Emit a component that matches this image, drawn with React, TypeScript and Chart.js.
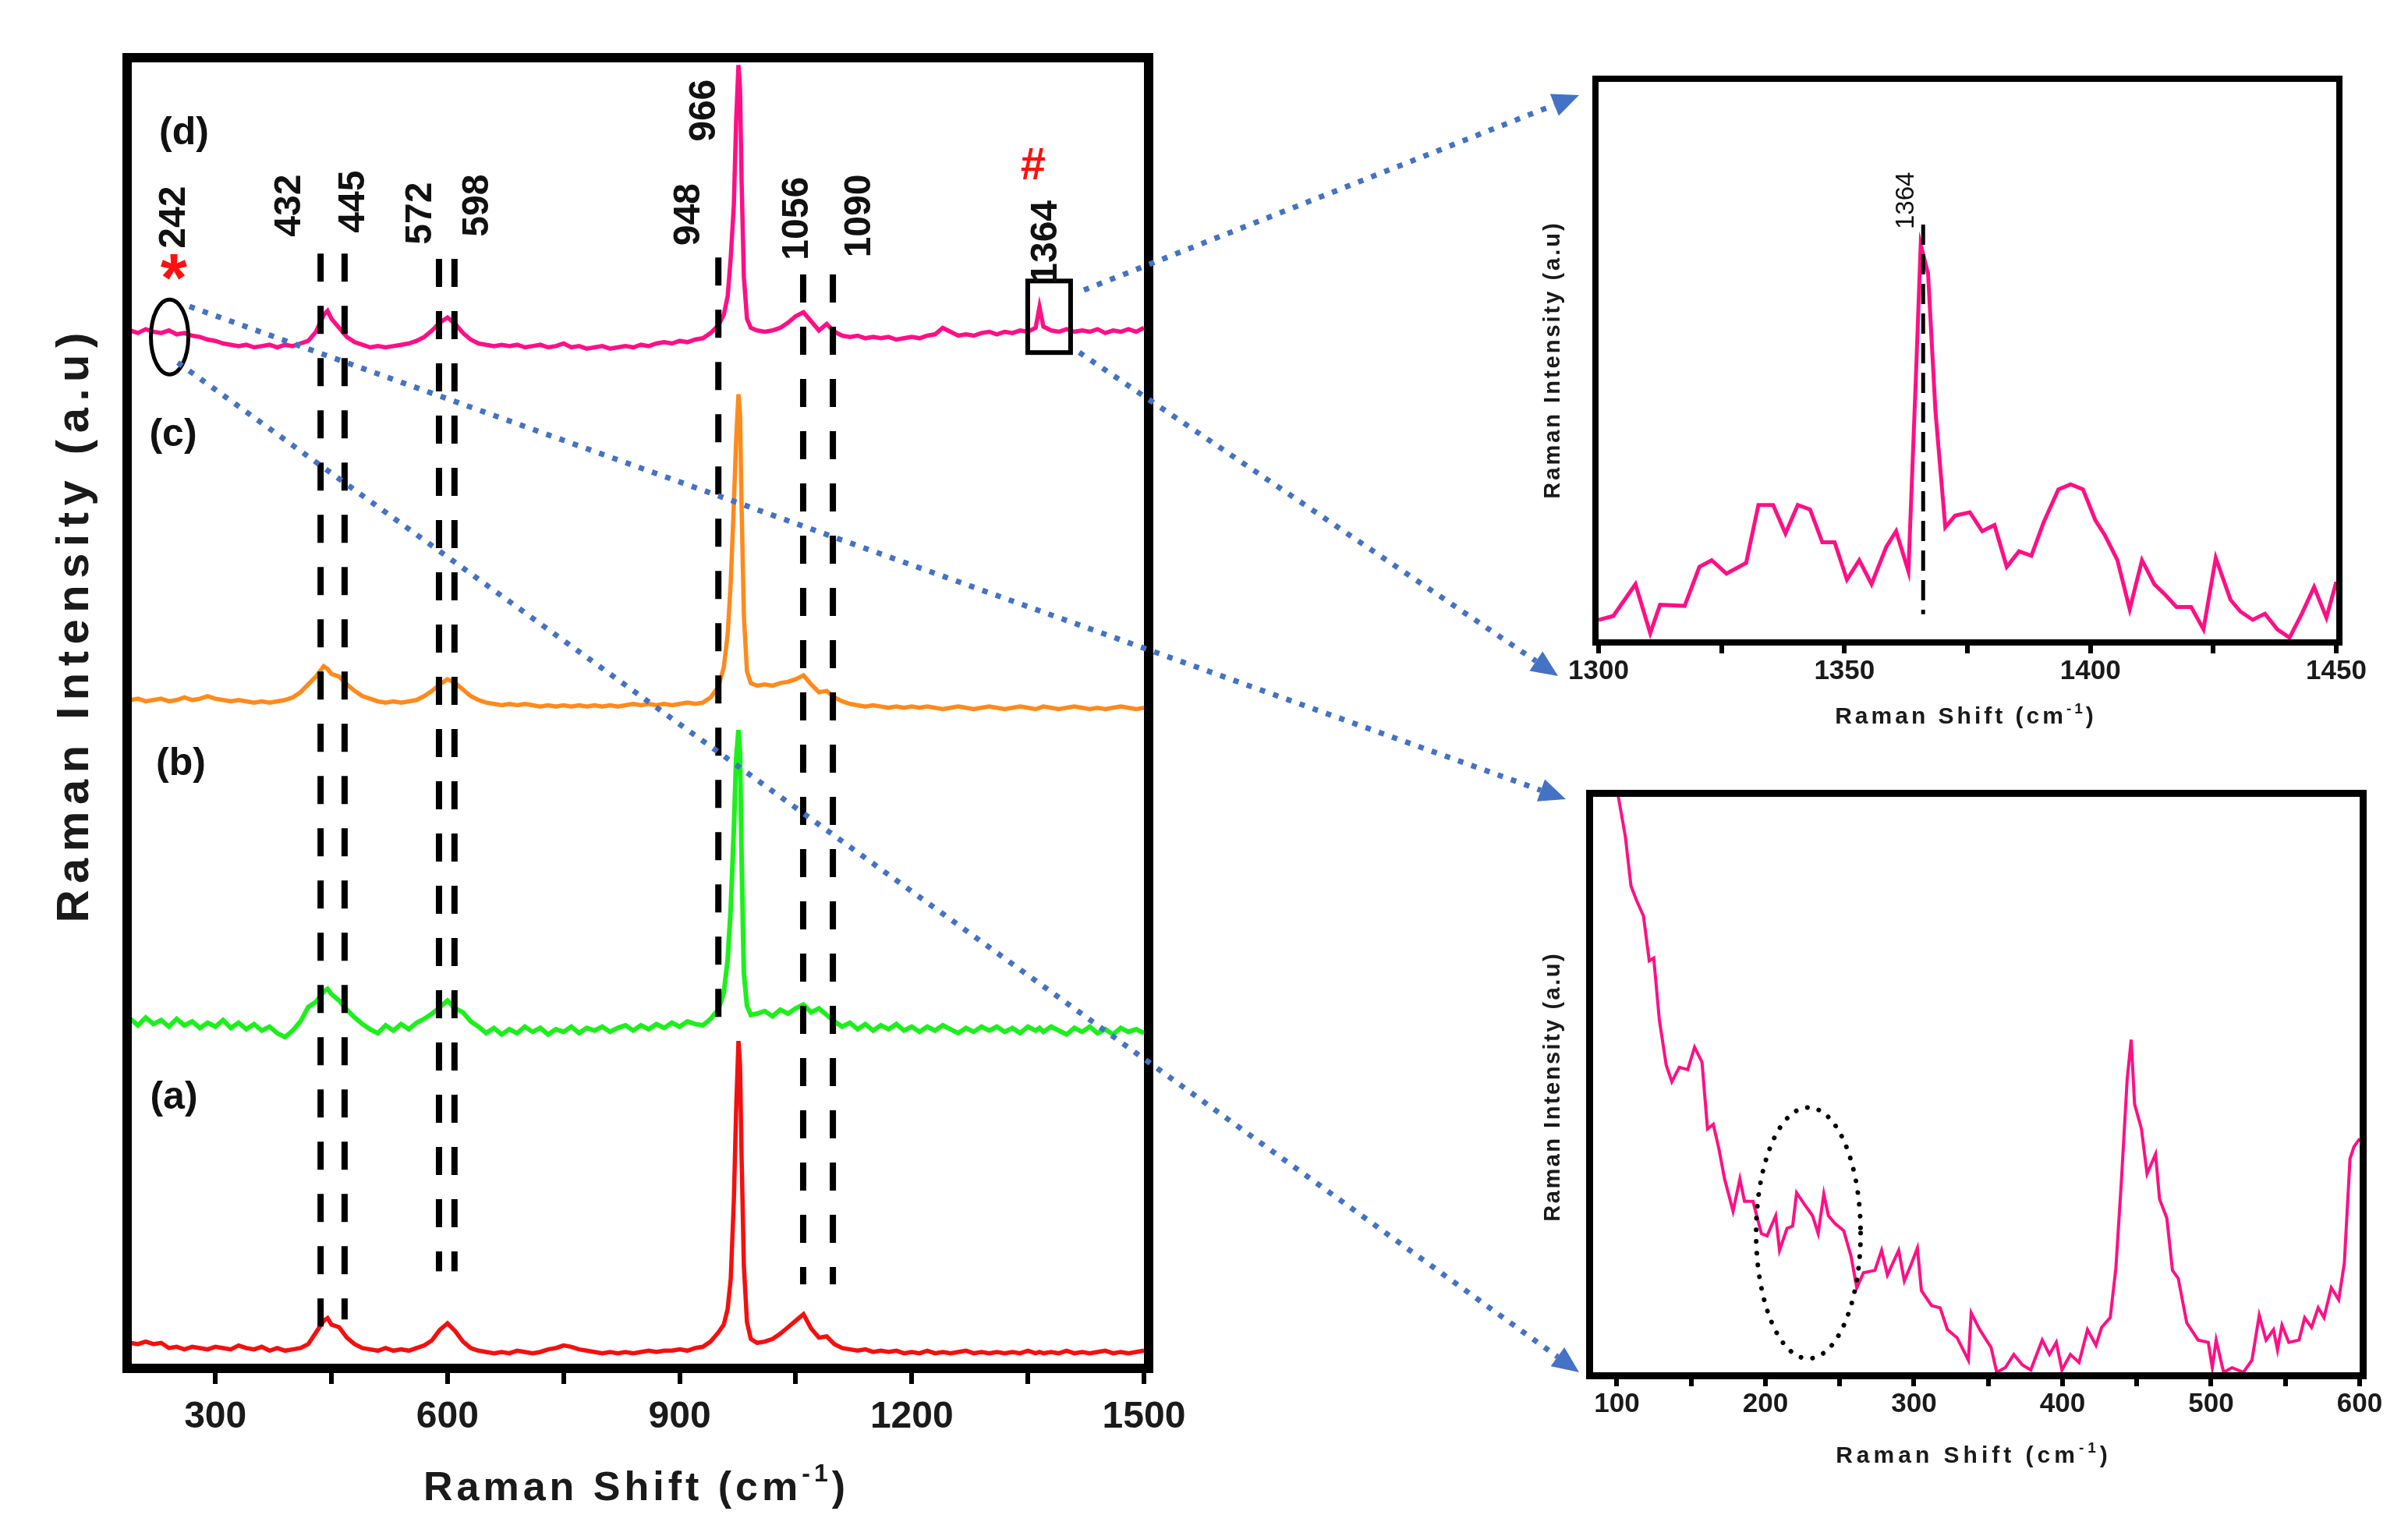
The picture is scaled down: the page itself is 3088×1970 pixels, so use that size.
import React, { useEffect, useRef } from 'react';
import { Chart, registerables } from 'chart.js';
Chart.register(...registerables);

const FAMILY = '"Liberation Sans", Arial, Helvetica, sans-serif';
const RED = '#f50f0f';
const GREEN = '#1cf01c';
const ORANGE = '#ff8a1c';
const PINK = '#ff0f86';
const BLUE = '#4472c4';
const INK = '#1a1a1a';

// ---------------- main panel data ----------------
const mainX = [
  190, 200, 210, 220, 230, 240, 250, 260, 270, 280, 290, 300, 310, 320, 330, 340, 350, 360, 370, 380, 390, 400, 410, 420, 430, 440,
  445,
  450, 460, 470, 480, 490, 500, 510, 520, 530, 540, 550, 560, 570, 580, 590, 600, 610, 620, 630, 640, 650, 660, 670, 680, 690, 700,
  710, 720, 730, 740, 750, 760, 770, 780, 790, 800, 810, 820, 830, 840, 850, 860, 870, 880, 890, 900, 910, 920, 930, 940, 950,
  957, 962, 966, 970, 973, 976, 978, 980, 983, 987, 992,
  1000, 1010, 1020, 1030, 1040, 1050, 1060, 1070, 1080, 1090, 1100, 1110, 1120, 1130, 1140, 1150, 1160, 1170, 1180, 1190,
  1200, 1210, 1220, 1230, 1240, 1250, 1260, 1270, 1280, 1290, 1300, 1310, 1320, 1330, 1340, 1350, 1360,
  1365,
  1370, 1380, 1390, 1400, 1410, 1420, 1430, 1440, 1450, 1460, 1470, 1480, 1490, 1500,
];

const seriesA = [
  1.6, 1.5, 1.7, 1.5, 1.6, 1.2, 1.3, 1.1, 1.3, 1.2, 1.1, 1.3, 1.2, 1.1, 1.4, 1.2, 1.1, 1.3, 1.0, 1.2, 1.0, 1.1, 1.2, 1.5, 2.4, 3.3,
  3.5,
  3.0, 2.8, 2.0, 1.5, 1.2, 1.1, 1.0, 1.2, 1.0, 1.1, 1.0, 1.2, 1.4, 1.8, 2.6, 3.1, 2.5, 1.7, 1.2, 1.0, 0.9, 0.8, 0.9, 0.8, 1.0, 0.9,
  0.8, 0.9, 1.1, 1.2, 1.4, 1.3, 1.1, 1.0, 0.9, 0.8, 0.9, 0.8, 0.9, 0.8, 0.9, 1.0, 0.9, 1.0, 1.0, 1.1, 1.0, 1.2, 1.3, 1.7, 2.4,
  3.0, 4.2, 6.5, 12.5, 19.5, 24.8, 23.0, 16.0, 7.5, 3.2, 1.9,
  1.6, 1.7, 1.9, 2.3, 2.8, 3.3, 3.8, 2.7, 2.0, 2.1, 1.5, 1.2, 1.1, 1.0, 1.1, 0.9, 1.0, 0.9, 1.0, 0.8,
  0.9, 0.8, 1.0, 0.8, 0.9, 0.8, 0.9, 1.0, 0.8, 0.9, 0.8, 0.9, 0.8, 0.9, 0.8, 1.0, 0.8,
  0.9,
  0.8, 0.9, 0.8, 1.0, 0.8, 0.9, 0.8, 0.9, 1.0, 0.8, 0.9, 0.8, 0.9, 1.0,
];

const seriesB = [
  26.5, 26.0, 26.6, 26.1, 26.4, 25.9, 26.5, 26.0, 26.3, 25.8, 26.2, 25.9, 26.4, 25.8, 26.2, 25.7, 26.1, 25.6, 25.9, 25.4, 25.1, 25.6, 26.3, 27.4, 27.8, 28.6,
  28.8,
  28.4, 27.9, 27.2, 26.6, 26.1, 25.7, 25.4, 26.0, 25.6, 26.1, 25.7, 26.2, 26.5, 26.9, 27.4, 27.9, 27.3, 27.0, 26.3, 25.9, 25.4, 25.8, 25.3, 25.7, 25.4, 25.9,
  25.5, 25.8, 25.3, 25.7, 25.5, 25.9, 25.4, 25.8, 25.6, 25.9, 25.5, 25.8, 26.0, 25.6, 26.0, 25.7, 26.1, 25.8, 26.2, 25.9, 26.3, 26.1, 26.0, 26.5, 27.2,
  28.5, 31.0, 35.0, 41.0, 46.5, 48.7, 47.0, 39.0, 30.0, 27.5, 26.8,
  26.9, 27.1, 26.7, 27.2, 26.9, 27.3, 27.6, 27.0, 27.3, 26.8, 26.3, 25.9, 26.2, 25.7, 26.1, 25.6, 26.0, 25.7, 26.1, 25.6,
  25.9, 25.5, 25.9, 25.6, 26.0, 25.7, 25.4, 25.8, 25.5, 25.9, 25.6, 25.9, 25.5, 25.8, 25.4, 25.9, 25.6,
  25.8,
  25.5, 25.9, 25.6, 25.3, 25.8, 25.5, 25.9, 25.4, 25.7, 25.3, 25.8, 25.5, 25.7, 25.4,
];

const seriesC = [
  51.0, 51.1, 50.9, 51.0, 51.1, 50.9, 51.0, 51.2, 51.0, 51.1, 51.3, 51.1, 51.0, 50.9, 51.0, 50.9, 50.8, 50.9, 50.8, 50.9, 51.0, 51.2, 51.6, 52.2, 52.8, 53.6,
  53.4,
  53.0, 52.8, 52.2, 51.7, 51.3, 51.1, 50.9, 50.8, 50.9, 50.8, 50.9, 51.0, 51.3, 51.7, 52.2, 52.6, 52.3, 51.8, 51.3, 51.0, 50.8, 50.7, 50.6, 50.7, 50.6, 50.7,
  50.6, 50.5, 50.6, 50.5, 50.6, 50.5, 50.6, 50.5, 50.6, 50.5, 50.6, 50.5, 50.6, 50.7, 50.6, 50.7, 50.6, 50.7, 50.6, 50.7, 50.8, 50.7, 50.8, 51.2, 52.0,
  53.5, 56.0, 60.0, 66.0, 71.0, 74.5, 73.0, 66.0, 57.5, 53.2, 52.3,
  52.1, 52.2, 52.1, 52.3, 52.4, 52.6, 52.9, 52.2, 51.6, 51.7, 51.2, 50.9, 50.7, 50.6, 50.5, 50.6, 50.5, 50.4, 50.5, 50.4,
  50.5, 50.4, 50.5, 50.4, 50.3, 50.4, 50.5, 50.4, 50.3, 50.4, 50.5, 50.4, 50.3, 50.4, 50.5, 50.4, 50.3,
  50.4,
  50.5, 50.4, 50.3, 50.4, 50.5, 50.4, 50.3, 50.4, 50.3, 50.4, 50.5, 50.4, 50.3, 50.4,
];

const seriesD = [
  79.4, 79.2, 79.5, 79.3, 79.2, 79.4, 79.1, 79.2, 79.0, 78.9, 78.7, 78.6, 78.4, 78.3, 78.2, 78.3, 78.1, 78.2, 78.3, 78.1, 78.3, 78.2, 78.4, 78.6, 79.3, 80.6,
  80.9,
  80.3, 79.6, 78.9, 78.5, 78.3, 78.1, 78.2, 78.1, 78.2, 78.3, 78.4, 78.6, 78.9, 79.4, 80.0, 80.4, 79.9, 79.2, 78.7, 78.4, 78.3, 78.2, 78.3, 78.2, 78.3, 78.1,
  78.2, 78.3, 78.1, 78.2, 78.4, 78.1, 78.2, 78.0, 78.1, 78.2, 78.0, 78.1, 78.2, 78.1, 78.3, 78.2, 78.4, 78.5, 78.4, 78.6, 78.5, 78.7, 78.8, 79.2, 79.8,
  80.6, 82.0, 85.0, 89.0, 95.5, 99.8, 98.0, 91.0, 83.5, 80.3, 79.6,
  79.4, 79.3, 79.4, 79.6, 80.0, 80.5, 80.8, 80.1, 79.4, 79.9, 79.3, 79.0, 78.9, 79.0, 78.8, 78.9, 78.8, 78.9, 78.7, 78.8,
  78.9, 78.8, 79.0, 79.1, 79.6, 79.3, 79.0, 79.1, 79.0, 79.2, 79.3, 79.1, 79.3, 79.2, 79.4, 79.3, 79.6,
  81.2,
  79.7, 79.4, 79.3, 79.5, 79.3, 79.4, 79.3, 79.5, 79.2, 79.4, 79.3, 79.5, 79.3, 79.6,
];

const mainTicks = [300, 450, 600, 750, 900, 1050, 1200, 1350, 1500];
const mainLabelledTicks = [300, 600, 900, 1200, 1500];

// peak annotations (text, label position, dashed marker position)
const peakTexts = ['242', '432', '445', '572', '598', '948', '966', '1056', '1090', '1364'];
const peakTextX = [243.4, 392.5, 475.2, 561.8, 635.4, 908.4, 928.6, 1048.5, 1129.1, 1370];
const peakTextY = [88.1, 89.0, 89.3, 88.4, 89.0, 88.3, 96.3, 88.0, 88.2, 86.2];
const dashX = [436, 467, 589, 609, 950, 1059.6, 1098];
const dashTop = [85.3, 85.3, 84.9, 84.9, 85.0, 83.7, 83.7];
const dashBottom = [2.5, 3.4, 7.1, 7.1, 25.9, 6.1, 6.1];
const traceNames = ['(d)', '(c)', '(b)', '(a)'];
const traceNameX = [259.5, 245.4, 255.5, 246.4];
const traceNameY = [94.5, 71.3, 46.0, 20.4];

// ---------------- inset (1300-1450) ----------------
const hiX = [1300, 1303, 1307.5, 1310.5, 1312.5, 1317.5, 1320.5, 1323, 1326, 1330, 1332.5, 1335.5, 1338, 1340.5, 1343, 1345.5, 1348, 1350.5, 1353, 1355.5,
  1358.5, 1360.5, 1363, 1364.5, 1365.5, 1367, 1368.5, 1370.5, 1372.5, 1375.5, 1378, 1380.5, 1383, 1385.5, 1388, 1390.5, 1393.5, 1396, 1398.5, 1401,
  1403, 1405.5, 1408, 1410.5, 1413, 1415, 1417.5, 1420.5, 1423, 1425.5, 1428.5, 1430.5, 1433, 1435.5, 1438, 1440.5, 1443, 1445.5, 1448, 1450];
const hiY = [3.5, 4.2, 9.9, 1.1, 6.2, 6.0, 13, 14.2, 11.8, 13.7, 24.1, 24.1, 19, 24.1, 23.3, 17.4, 17.4, 10.7, 14.2, 9.9,
  16.6, 19.4, 12.2, 46.5, 70.8, 65.6, 40.9, 20.1, 22.2, 22.8, 19.4, 20.5, 13, 15.8, 15, 21, 26.9, 27.8, 26.9, 21.4,
  18.6, 14.2, 5.4, 14.2, 9.9, 8.2, 5.8, 5.8, 1.8, 14.6, 7.1, 5, 3.5, 4.6, 1.8, 0.3, 4.6, 9.4, 3.9, 10.3];
const hiTicks = [1300, 1325, 1350, 1375, 1400, 1425, 1450];
const hiLabelledTicks = [1300, 1350, 1400, 1450];

// ---------------- inset (100-600) ----------------
const loX = [101, 105.7, 109.5, 113.4, 117.9, 121.8, 124.8, 128.6, 133.2, 137, 142, 147.7, 152.3, 157.3, 161, 164.9, 168.7, 172.5, 178.2, 182.8,
  185.9, 191.6, 197.3, 201.1, 206.9, 209.5, 214.5, 218.3, 221, 226, 231.7, 235.5, 239.3, 242.4, 247, 252.7, 257.6, 261.5, 266, 273.7,
  278.2, 282.1, 289.7, 293.5, 297.7, 302.3, 305, 311.8, 317.6, 322.5, 329, 336.6, 338.5, 344.3, 351.9, 355.7, 361.5, 367.2, 372.9, 378.6,
  386.3, 391.2, 395.8, 399.6, 405.3, 411.1, 416.8, 422.5, 426.3, 432.1, 435.9, 439.7, 443.5, 446.2, 448.5, 453.1, 456.9, 462.6, 465.3, 470.2,
  474, 477.9, 483.6, 491.2, 498.1, 500.8, 503.4, 508.4, 514.1, 521.8, 527.5, 532.4, 537, 542, 544.7, 547.7, 552.3, 559.2, 563, 567.6,
  572.1, 576, 580.9, 585.9, 589.7, 593.5, 596.2, 600];
const loY = [100, 93.1, 84.5, 81.9, 79.3, 71.5, 72, 61.2, 53.4, 50.5, 53, 52.6, 56.5, 53.9, 42.3, 43.1, 38.8, 33.6, 28, 33.6,
  29.7, 29.7, 24.1, 23.7, 27.2, 21.2, 25, 25.4, 31.2, 29.3, 27.2, 24.1, 31, 27.2, 25.8, 24.6, 20.2, 14.7, 17.3, 17.7,
  21.2, 16.9, 21.2, 15.9, 18.5, 21.6, 14.2, 11.6, 11.2, 7.4, 6, 2.1, 10.3, 7.4, 4.3, 0, 0.8, 3.1, 1.3, 0.4,
  5.6, 3.1, 5.2, 0.4, 3.1, 1.7, 7.4, 4.7, 7.8, 9.5, 18.1, 33.6, 50.9, 57.8, 46.6, 42.3, 34.5, 37.9, 30.1, 26.8,
  17.7, 16.3, 8.6, 5.6, 5.2, 0.8, 5.6, 0, 0.8, 0, 2.1, 9.9, 5.6, 7.4, 3.9, 8.2, 5.2, 5.6, 9.5, 7.8,
  11.2, 9.5, 14.7, 12.6, 19, 37.1, 39.2, 40.6];
const loTicks = [100, 150, 200, 250, 300, 350, 400, 450, 500, 550, 600];
const loLabelledTicks = [100, 200, 300, 400, 500, 600];

const Y_TITLE = 'Raman Intensity (a.u)';
const X_TITLE = 'Raman Shift (cm';
const X_TITLE_SUP = '-1';
const X_TITLE_END = ')';

// ---------------- drawing helpers ----------------
function drawText(ctx: CanvasRenderingContext2D, s: string, cx: number, cy: number, size: number,
  o: { weight?: string; color?: string; rot?: number; spacing?: number } = {}) {
  ctx.save();
  ctx.translate(cx, cy);
  if (o.rot) ctx.rotate(o.rot);
  ctx.font = `${o.weight ?? 'bold'} ${size}px ${FAMILY}`;
  (ctx as any).letterSpacing = `${o.spacing ?? 0}px`;
  ctx.fillStyle = o.color ?? INK;
  ctx.textAlign = 'left';
  ctx.textBaseline = 'alphabetic';
  const m = ctx.measureText(s);
  const w = m.width - (o.spacing ?? 0);
  const dy = (m.actualBoundingBoxAscent - m.actualBoundingBoxDescent) / 2;
  ctx.fillText(s, -w / 2, dy);
  ctx.restore();
}

function drawXTitle(ctx: CanvasRenderingContext2D, cx: number, cy: number, size: number, spacing: number) {
  ctx.save();
  ctx.translate(cx, cy);
  ctx.fillStyle = INK;
  (ctx as any).letterSpacing = `${spacing}px`;
  const f1 = `bold ${size}px ${FAMILY}`;
  const f2 = `bold ${Math.round(size * 0.62)}px ${FAMILY}`;
  ctx.font = f1;
  const w1 = ctx.measureText(X_TITLE).width;
  const w3 = ctx.measureText(X_TITLE_END).width;
  ctx.font = f2;
  const w2 = ctx.measureText(X_TITLE_SUP).width;
  let x = -(w1 + w2 + w3) / 2;
  const base = size * 0.28;
  ctx.textAlign = 'left';
  ctx.textBaseline = 'alphabetic';
  ctx.font = f1; ctx.fillText(X_TITLE, x, base); x += w1;
  ctx.font = f2; ctx.fillText(X_TITLE_SUP, x, base - size * 0.45); x += w2;
  ctx.font = f1; ctx.fillText(X_TITLE_END, x, base);
  ctx.restore();
}

function dottedArrow(ctx: CanvasRenderingContext2D, x1: number, y1: number, x2: number, y2: number) {
  const ang = Math.atan2(y2 - y1, x2 - x1);
  const hl = 34, hw = 30;
  const bx = x2 - hl * Math.cos(ang), by = y2 - hl * Math.sin(ang);
  ctx.save();
  ctx.strokeStyle = BLUE;
  ctx.lineWidth = 7;
  ctx.setLineDash([7, 11]);
  ctx.beginPath(); ctx.moveTo(x1, y1); ctx.lineTo(bx, by); ctx.stroke();
  ctx.setLineDash([]);
  ctx.fillStyle = BLUE;
  ctx.beginPath();
  ctx.moveTo(x2, y2);
  ctx.lineTo(bx + (hw / 2) * Math.sin(ang), by - (hw / 2) * Math.cos(ang));
  ctx.lineTo(bx - (hw / 2) * Math.sin(ang), by + (hw / 2) * Math.cos(ang));
  ctx.closePath(); ctx.fill();
  ctx.restore();
}

function frame(ctx: CanvasRenderingContext2D, a: any, lw: number) {
  ctx.save();
  ctx.strokeStyle = '#000';
  ctx.lineWidth = lw;
  ctx.strokeRect(a.left - lw / 2, a.top - lw / 2, a.right - a.left + lw, a.bottom - a.top + lw);
  ctx.restore();
}

const xy = (xs: number[], ys: number[]) => xs.map((x, i) => ({ x, y: ys[i] }));

function xScale(min: number, max: number, ticks: number[], labelled: number[], height: number,
  font: number, tickLen: number, tickW: number, pad: number) {
  return {
    type: 'linear', min, max,
    afterBuildTicks: (s: any) => { s.ticks = ticks.map((v) => ({ value: v })); },
    afterFit: (s: any) => { s.height = height; },
    border: { display: false },
    grid: { drawOnChartArea: false, drawTicks: true, tickLength: tickLen, tickWidth: tickW, lineWidth: tickW, color: '#000', tickColor: '#000' },
    ticks: {
      autoSkip: false, maxRotation: 0, minRotation: 0, padding: pad, color: INK,
      font: { family: FAMILY, size: font, weight: 'bold' },
      callback: (v: any) => (labelled.includes(Number(v)) ? String(v) : ''),
    },
  };
}

function mainConfig(): any {
  const ds = (d: number[], c: string, w: number) => ({ data: xy(mainX, d), borderColor: c, borderWidth: w, pointRadius: 0, tension: 0, fill: false });
  return {
    type: 'line',
    data: { datasets: [ds(seriesA, RED, 5.5), ds(seriesB, GREEN, 6), ds(seriesC, ORANGE, 5.5), ds(seriesD, PINK, 5.5)] },
    options: {
      animation: false, responsive: false, maintainAspectRatio: false, devicePixelRatio: 1,
      layout: { padding: { left: 169, top: 80, right: 1621, bottom: 0 } },
      plugins: { legend: { display: false }, tooltip: { enabled: false }, title: { display: false } },
      scales: {
        x: xScale(192, 1500, mainTicks, mainLabelledTicks, 221, 48, 26, 6, 14),
        y: { display: false, min: 0, max: 100 },
      },
    },
    plugins: [{
      id: 'mainDecor',
      afterDraw(chart: any) {
        const ctx = chart.ctx as CanvasRenderingContext2D;
        const xs = chart.scales.x, ys = chart.scales.y;
        const X = (v: number) => xs.getPixelForValue(v);
        const Y = (v: number) => ys.getPixelForValue(v);
        // dashed marker lines
        ctx.save();
        ctx.strokeStyle = '#000'; ctx.lineWidth = 8; ctx.setLineDash([36, 31]);
        dashX.forEach((v, i) => {
          ctx.beginPath(); ctx.moveTo(X(v), Y(dashTop[i])); ctx.lineTo(X(v), Y(dashBottom[i])); ctx.stroke();
        });
        ctx.restore();
        // ellipse around 242 region
        ctx.save();
        ctx.strokeStyle = '#000'; ctx.lineWidth = 5;
        ctx.beginPath(); ctx.ellipse(X(240.9), Y(78.9), 24, 48, 0, 0, Math.PI * 2); ctx.stroke();
        // box around 1364
        ctx.lineWidth = 6;
        ctx.strokeRect(X(1349.8), Y(83.2), X(1405.2) - X(1349.8), Y(77.7) - Y(83.2));
        ctx.restore();
        // peak labels
        peakTexts.forEach((t, i) => drawText(ctx, t, X(peakTextX[i]), Y(peakTextY[i]), 48, { rot: -Math.PI / 2, color: '#111' }));
        traceNames.forEach((t, i) => drawText(ctx, t, X(traceNameX[i]), Y(traceNameY[i]), 50, { color: '#111' }));
        drawText(ctx, '*', X(246.4), Y(84.3), 88, { color: '#ff1010' });
        drawText(ctx, '#', X(1356.8), Y(92.2), 58, { color: '#ff1010' });
        frame(ctx, chart.chartArea, 12);
        // axis titles
        drawXTitle(ctx, 816, 1909, 52, 5);
        drawText(ctx, Y_TITLE, 98, 805, 58, { rot: -Math.PI / 2, spacing: 8.5 });
        // dotted arrows to the insets
        dottedArrow(ctx, 1390, 372, 2025, 122);
        dottedArrow(ctx, 1384, 452, 1998, 867);
        dottedArrow(ctx, 243, 393, 2008, 1025);
        dottedArrow(ctx, 228, 465, 2025, 1760);
      },
    }],
  };
}

function hiConfig(): any {
  return {
    type: 'line',
    data: { datasets: [{ data: xy(hiX, hiY), borderColor: PINK, borderWidth: 5, pointRadius: 0, tension: 0, fill: false }] },
    options: {
      animation: false, responsive: false, maintainAspectRatio: false, devicePixelRatio: 1,
      layout: { padding: { left: 110, top: 45, right: 92, bottom: 0 } },
      plugins: { legend: { display: false }, tooltip: { enabled: false } },
      scales: {
        x: xScale(1300, 1450, hiTicks, hiLabelledTicks, 140, 35, 18, 6, 2),
        y: { display: false, min: 0, max: 100 },
      },
    },
    plugins: [{
      id: 'hiDecor',
      afterDraw(chart: any) {
        const ctx = chart.ctx as CanvasRenderingContext2D;
        const X = (v: number) => chart.scales.x.getPixelForValue(v);
        const Y = (v: number) => chart.scales.y.getPixelForValue(v);
        ctx.save();
        ctx.strokeStyle = '#000'; ctx.lineWidth = 5; ctx.setLineDash([26, 12]);
        ctx.beginPath(); ctx.moveTo(X(1366), Y(74.4)); ctx.lineTo(X(1366), Y(4.5)); ctx.stroke();
        ctx.restore();
        drawText(ctx, '1364', X(1362.2), Y(78.7), 33, { weight: 'normal', rot: -Math.PI / 2, color: '#111' });
        frame(ctx, chart.chartArea, 8);
        drawXTitle(ctx, 581, 860, 30, 4);
        drawText(ctx, Y_TITLE, 52, 403, 29, { rot: -Math.PI / 2, spacing: 3 });
      },
    }],
  };
}

function loConfig(): any {
  return {
    type: 'line',
    data: { datasets: [{ data: xy(loX, loY), borderColor: PINK, borderWidth: 4, pointRadius: 0, tension: 0, fill: false }] },
    options: {
      animation: false, responsive: false, maintainAspectRatio: false, devicePixelRatio: 1,
      layout: { padding: { left: 103, top: 52, right: 62, bottom: 0 } },
      plugins: { legend: { display: false }, tooltip: { enabled: false } },
      scales: {
        x: xScale(84, 600, loTicks, loLabelledTicks, 210, 35, 18, 6, 2),
        y: { display: false, min: 0, max: 100 },
      },
    },
    plugins: [{
      id: 'loDecor',
      afterDraw(chart: any) {
        const ctx = chart.ctx as CanvasRenderingContext2D;
        const X = (v: number) => chart.scales.x.getPixelForValue(v);
        const Y = (v: number) => chart.scales.y.getPixelForValue(v);
        ctx.save();
        ctx.strokeStyle = '#000'; ctx.lineWidth = 6; ctx.lineCap = 'round'; ctx.setLineDash([0.1, 15]);
        ctx.beginPath(); ctx.ellipse(X(228.9), Y(24.2), 67, 161, 0, 0, Math.PI * 2); ctx.stroke();
        ctx.restore();
        frame(ctx, chart.chartArea, 9);
        drawXTitle(ctx, 591, 898, 30, 5);
        drawText(ctx, Y_TITLE, 52, 425, 29, { rot: -Math.PI / 2, spacing: 2.5 });
      },
    }],
  };
}

export default function App() {
  const mainRef = useRef<HTMLCanvasElement>(null);
  const hiRef = useRef<HTMLCanvasElement>(null);
  const loRef = useRef<HTMLCanvasElement>(null);
  useEffect(() => {
    document.body.style.margin = '0';
    const charts = [
      new Chart(mainRef.current as HTMLCanvasElement, mainConfig()),
      new Chart(hiRef.current as HTMLCanvasElement, hiConfig()),
      new Chart(loRef.current as HTMLCanvasElement, loConfig()),
    ];
    return () => charts.forEach((c) => c.destroy());
  }, []);
  return (
    <div style={{ position: 'relative', width: 3088, height: 1970, background: '#fff', overflow: 'hidden' }}>
      <canvas ref={mainRef} width={3088} height={1970} style={{ position: 'absolute', left: 0, top: 0, display: 'block' }} />
      <canvas ref={hiRef} width={1148} height={900} style={{ position: 'absolute', left: 1940, top: 60, display: 'block' }} />
      <canvas ref={loRef} width={1148} height={1000} style={{ position: 'absolute', left: 1940, top: 970, display: 'block' }} />
    </div>
  );
}
